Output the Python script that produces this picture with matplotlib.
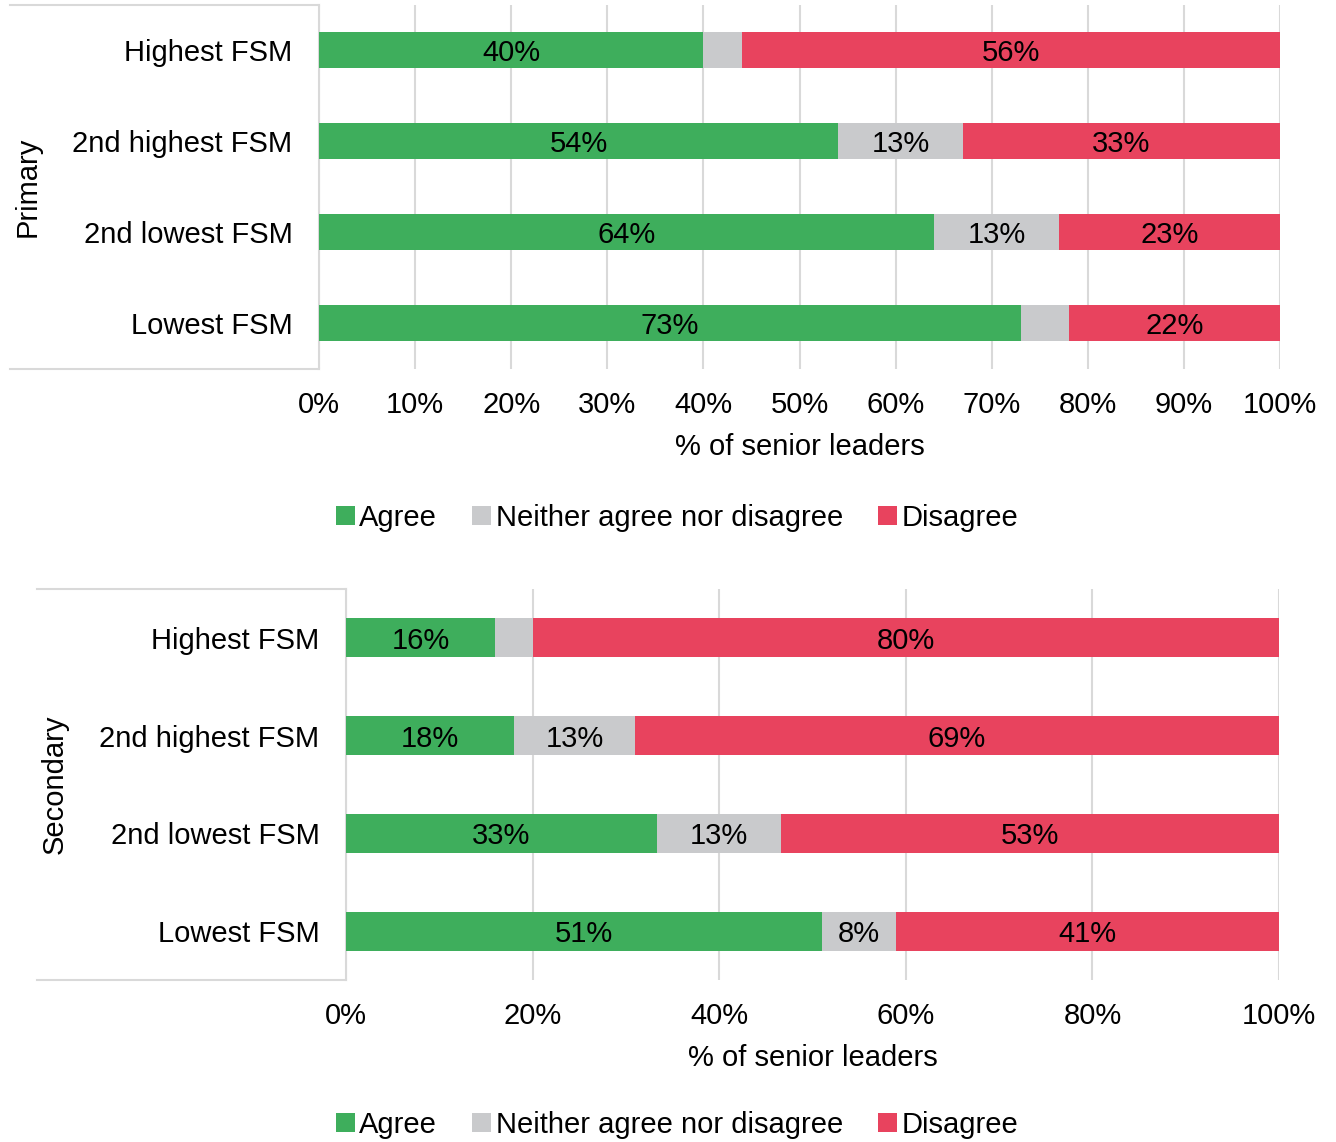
import matplotlib
matplotlib.use("Agg")
import matplotlib.pyplot as plt
from matplotlib.lines import Line2D
from matplotlib.patches import Patch
import numpy as np

plt.rcParams['font.family'] = ['Liberation Sans', 'DejaVu Sans']

categories = ['Highest FSM', '2nd highest FSM', '2nd lowest FSM', 'Lowest FSM']
series = ['Agree', 'Neither agree nor disagree', 'Disagree']
colors = ['#3EAE5C', '#C9CACC', '#E8435E']

primary_agree = [40, 54, 64, 73]
primary_neither = [4, 13, 13, 5]
primary_disagree = [56, 33, 23, 22]

secondary_agree = [16, 18, 33.3, 51]
secondary_neither = [4, 13, 13.3, 8]
secondary_disagree = [80, 69, 53.4, 41]

primary_ticks = np.arange(0, 101, 10)
secondary_ticks = np.arange(0, 101, 20)

W, H = 1336, 1142
fig = plt.figure(figsize=(W / 100, H / 100), dpi=100)
grid_col = '#D9D9D9'
fs = 21


def fx(px):
    return px / W


def fy(py):
    return 1 - py / H


def panel(box, group, vals, ticks, box_left, group_x, legend_y):
    x0, x1, y0, y1 = box
    ax = fig.add_axes([fx(x0), fy(y1), fx(x1) - fx(x0), fy(y0) - fy(y1)])
    y = np.arange(len(categories))
    left = np.zeros(len(categories))
    for v, c in zip(vals, colors):
        v = np.array(v, dtype=float)
        ax.barh(y, v, left=left, height=0.4, color=c, zorder=3)
        for yi, li, vi in zip(y, left, v):
            if vi >= 8:
                ax.text(li + vi / 2, yi, '%.0f%%' % vi, ha='center',
                        va='center_baseline', fontsize=fs, color='black', zorder=4)
        left += v
    ax.set_xlim(0, 100)
    ax.set_ylim(len(categories) - 0.5, -0.5)
    ax.set_xticks(ticks)
    ax.set_xticklabels(['%d%%' % t for t in ticks], fontsize=fs)
    ax.set_yticks(y)
    ax.set_yticklabels(categories, fontsize=fs)
    ax.tick_params(axis='both', length=0)
    ax.tick_params(axis='y', pad=19)
    ax.tick_params(axis='x', pad=16)
    ax.grid(axis='x', color=grid_col, linewidth=1.5, zorder=0)
    for s in ['top', 'right', 'bottom']:
        ax.spines[s].set_visible(False)
    ax.spines['left'].set_color(grid_col)
    ax.spines['left'].set_linewidth(1.5)
    ax.set_xlabel('% of senior leaders', fontsize=fs, labelpad=10)

    # box around the category labels
    for yy in (y0, y1):
        fig.add_artist(Line2D([fx(box_left), fx(x0)], [fy(yy), fy(yy)],
                              color=grid_col, linewidth=1.5))
    fig.text(fx(group_x), fy((y0 + y1) / 2), group, rotation=90,
             ha='center', va='center', fontsize=fs)

    handles = [Patch(facecolor=c, edgecolor='none') for c in colors]
    fig.legend(handles, series, loc='center', bbox_to_anchor=(fx(677), fy(legend_y)),
               ncol=3, frameon=False, fontsize=fs, handlelength=0.65,
               handleheight=0.65, handletextpad=0.15, columnspacing=1.2)
    return ax


panel((319, 1280, 4.5, 368.5), 'Primary',
      [primary_agree, primary_neither, primary_disagree],
      primary_ticks, 10, 28, 518)
panel((346, 1279, 589, 980), 'Secondary',
      [secondary_agree, secondary_neither, secondary_disagree],
      secondary_ticks, 37, 55, 1125)

fig.savefig('out.png', dpi=100)
